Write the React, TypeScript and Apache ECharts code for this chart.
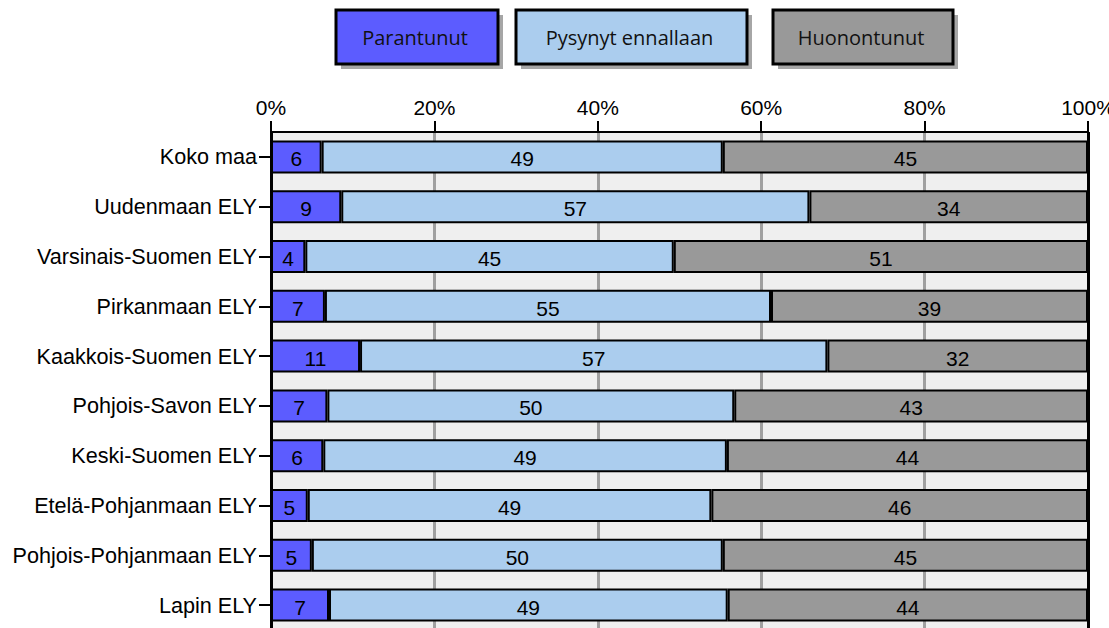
import React, { useEffect, useRef } from "react";
import * as echarts from "echarts";

const categories = [
  "Koko maa",
  "Uudenmaan ELY",
  "Varsinais-Suomen ELY",
  "Pirkanmaan ELY",
  "Kaakkois-Suomen ELY",
  "Pohjois-Savon ELY",
  "Keski-Suomen ELY",
  "Etelä-Pohjanmaan ELY",
  "Pohjois-Pohjanmaan ELY",
  "Lapin ELY",
];

const seriesNames = ["Parantunut", "Pysynyt ennallaan", "Huonontunut"];

const parantunut = [6.2, 8.6, 4.2, 6.6, 10.9, 6.9, 6.4, 4.5, 5.0, 7.1];
const pysynyt = [49.1, 57.3, 45.1, 54.6, 57.2, 49.8, 49.4, 49.4, 50.3, 48.8];
const huonontunut = [44.7, 34.1, 50.7, 38.8, 31.9, 43.3, 44.2, 46.1, 44.7, 44.1];

const xTicks = [0, 20, 40, 60, 80, 100];

const colors = ["#5c5cff", "#abcdee", "#999999"];

const legendBoxes = [
  { x: 336, w: 162 },
  { x: 516, w: 231 },
  { x: 773, w: 180 },
];

export default function App() {
  const ref = useRef<HTMLDivElement>(null);

  useEffect(() => {
    if (!ref.current) return;
    const chart = echarts.init(ref.current, undefined, { renderer: "svg" });
    const values = [parantunut, pysynyt, huonontunut];
    const font = "'Liberation Sans', Arial, sans-serif";

    const graphic: any[] = [];
    seriesNames.forEach((name, i) => {
      const b = legendBoxes[i];
      graphic.push({
        type: "rect",
        shape: { x: b.x + 5, y: 15, width: b.w, height: 54 },
        style: { fill: "#a6a6a6" },
        z: 10,
      });
      graphic.push({
        type: "rect",
        shape: { x: b.x, y: 10, width: b.w, height: 54 },
        style: { fill: colors[i], stroke: "#000", lineWidth: 3 },
        z: 11,
      });
      graphic.push({
        type: "text",
        x: b.x + b.w / 2 - 2,
        y: 37,
        style: {
          text: name,
          align: "center",
          verticalAlign: "middle",
          fontSize: 20,
          fontFamily: "'Open Sans', sans-serif",
          fill: "#111",
        },
        z: 12,
      });
    });

    chart.setOption({
      animation: false,
      backgroundColor: "#fff",
      grid: {
        left: 271,
        top: 132,
        width: 817,
        height: 498,
        outerBoundsMode: "none",
        containLabel: false,
        show: true,
        backgroundColor: "#efefef",
        borderColor: "#000",
        borderWidth: 2,
      },
      xAxis: {
        type: "value",
        position: "top",
        min: xTicks[0],
        max: xTicks[xTicks.length - 1],
        interval: 20,
        axisLine: { show: true, lineStyle: { color: "#000", width: 2 } },
        axisTick: { show: true, length: 11, lineStyle: { color: "#000", width: 2 } },
        axisLabel: {
          formatter: "{value}%",
          fontSize: 21,
          color: "#000",
          fontFamily: font,
          margin: 14,
        },
        splitLine: {
          show: true,
          lineStyle: {
            color: ["#000", "#a0a0a0", "#a0a0a0", "#a0a0a0", "#a0a0a0", "#000"],
            width: 3,
          },
        },
      },
      yAxis: {
        type: "category",
        inverse: true,
        data: categories,
        axisLine: { show: true, lineStyle: { color: "#000", width: 2 } },
        axisTick: {
          show: true,
          alignWithLabel: true,
          length: 12,
          lineStyle: { color: "#000", width: 2 },
        },
        axisLabel: {
          fontSize: 21.6,
          color: "#000",
          fontFamily: font,
          margin: 14,
        },
        splitLine: { show: false },
      },
      graphic,
      series: seriesNames.map((name, i) => ({
        name,
        type: "bar",
        stack: "total",
        barWidth: 33,
        data: values[i],
        itemStyle: { color: colors[i], borderColor: "#000", borderWidth: 2 },
        label: {
          show: true,
          position: "inside",
          offset: [0, 2],
          fontSize: 21,
          color: "#000",
          fontFamily: font,
          formatter: (p: any) => String(Math.round(p.value)),
        },
      })),
    });

    return () => chart.dispose();
  }, []);

  return (
    <div
      ref={ref}
      style={{ position: "fixed", left: 0, top: 0, width: 1109, height: 628 }}
    />
  );
}
